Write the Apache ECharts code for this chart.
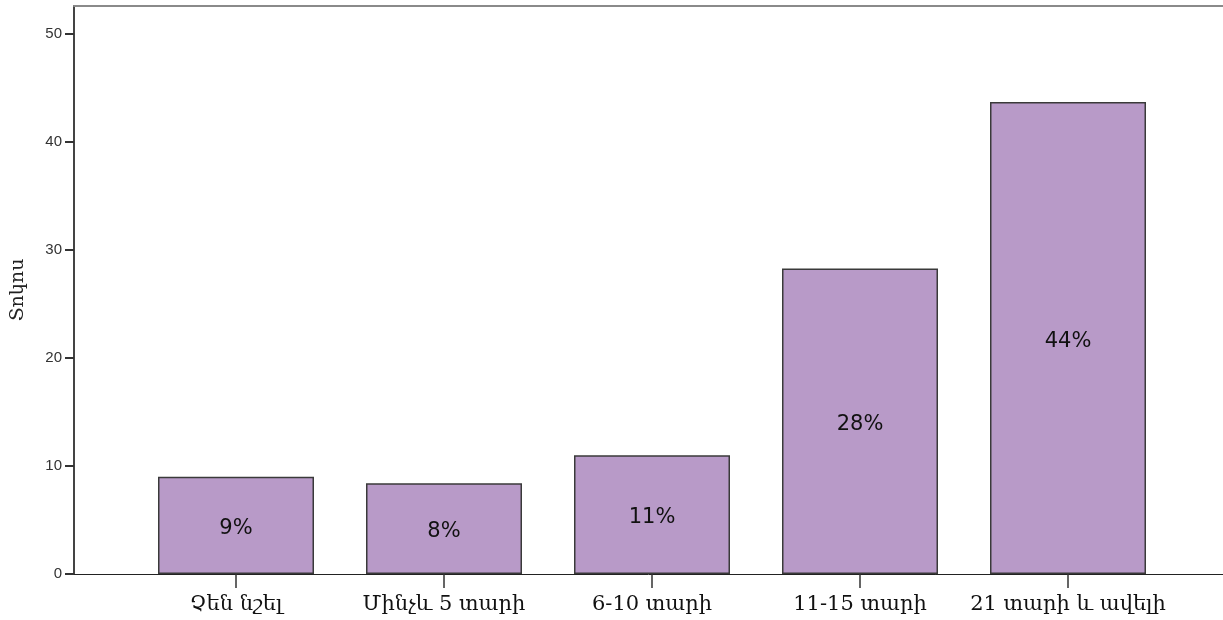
<!DOCTYPE html>
<html lang="hy">
<head>
    <meta charset="UTF-8">
    <title>Տոկոս</title>
    <style>
        html, body { margin: 0; padding: 0; background: #fff; }
        #container { width: 1223px; height: 620px; }
    </style>
</head>
<body>
<div id="container"></div>
<script type="text/javascript" src="https://cdn.jsdelivr.net/npm/echarts@6/dist/echarts.min.js"></script>
<script type="text/javascript">
    var categories = ['Չեն նշել', 'Մինչև 5 տարի', '6-10 տարի', '11-15 տարի', '21 տարի և ավելի'];
    var percentValues = [9.0, 8.4, 11.0, 28.3, 43.7];
    var yTicks = [0, 10, 20, 30, 40, 50];
    var yMax = 52.6;

    var dom = document.getElementById('container');
    var myChart = echarts.init(dom);

    var option = {
        animation: false,
        grid: [
            // frame: axis lines of the whole plot
            {left: 74, right: 0, top: 6, bottom: 46, outerBoundsMode: 'none'},
            // bars
            {left: 132, right: 51, top: 6, bottom: 46, outerBoundsMode: 'none'}
        ],
        xAxis: [
            {
                gridIndex: 0, type: 'value', min: 0, max: 1, position: 'bottom',
                axisLine: {show: true, lineStyle: {color: '#222', width: 1}},
                axisTick: {show: false}, axisLabel: {show: false}, splitLine: {show: false}
            },
            {
                gridIndex: 0, type: 'value', min: 0, max: 1, position: 'top',
                axisLine: {show: true, lineStyle: {color: '#8a8a8a', width: 2}},
                axisTick: {show: false}, axisLabel: {show: false}, splitLine: {show: false}
            },
            {
                gridIndex: 1, type: 'category', data: categories,
                axisLine: {show: false},
                axisTick: {show: true, alignWithLabel: true, length: 14, lineStyle: {color: '#333', width: 1.5}},
                axisLabel: {
                    interval: 0, margin: 20, color: '#111', fontSize: 21,
                    fontFamily: 'DejaVu Serif'
                }
            }
        ],
        yAxis: [
            {
                gridIndex: 0, type: 'value', min: 0, max: yMax,
                name: 'Տոկոս', nameLocation: 'middle', nameGap: 46,
                nameTextStyle: {color: '#222', fontSize: 19, fontFamily: 'DejaVu Serif'},
                axisLine: {show: true, lineStyle: {color: '#444', width: 2}},
                axisTick: {show: true, length: 9, customValues: yTicks, lineStyle: {color: '#333', width: 2}},
                axisLabel: {customValues: yTicks, color: '#333', fontSize: 15, margin: 12, fontFamily: 'Liberation Sans'},
                splitLine: {show: false}
            },
            {
                gridIndex: 1, type: 'value', min: 0, max: yMax, show: false
            }
        ],
        series: [
            {
                type: 'bar',
                xAxisIndex: 2,
                yAxisIndex: 1,
                data: percentValues,
                barCategoryGap: '25%',
                itemStyle: {color: '#b89ac8', borderColor: '#3a3a3a', borderWidth: 1.5},
                label: {
                    show: true,
                    position: 'inside',
                    offset: [0, 3],
                    color: '#111',
                    fontSize: 21,
                    fontFamily: 'DejaVu Sans',
                    formatter: function (p) { return Math.round(p.value) + '%'; }
                }
            }
        ]
    };

    myChart.setOption(option, true);
</script>
</body>
</html>
